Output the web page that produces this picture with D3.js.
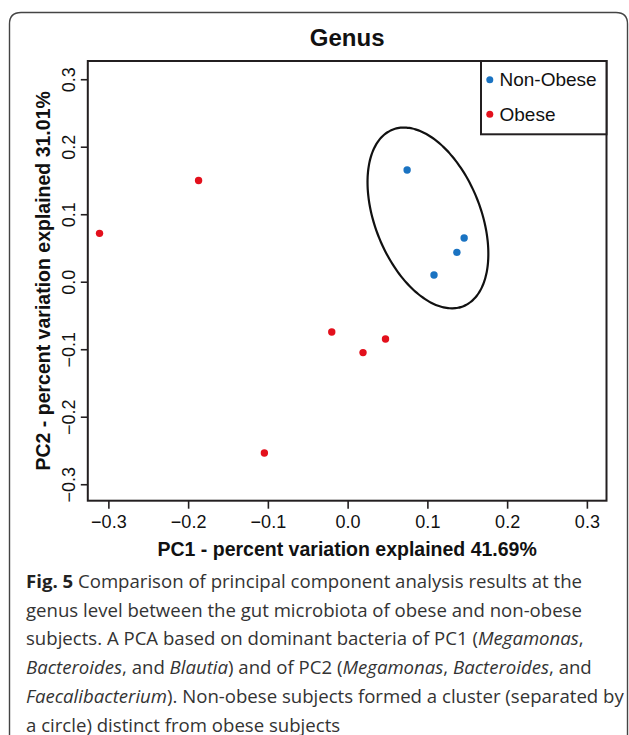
<!DOCTYPE html>
<html>
<head>
<meta charset="utf-8">
<script src="https://cdn.jsdelivr.net/npm/d3@7"></script>
<style>
  html, body { margin: 0; padding: 0; background: #fff; }
  svg { display: block; }
</style>
</head>
<body>
<svg id="chart" width="629" height="735"></svg>
<script>
// ---------- data ----------
const title = "Genus";
const xLabel = "PC1 - percent variation explained 41.69%";
const yLabel = "PC2 - percent variation explained 31.01%";
const groups = ["Non-Obese", "Obese"];
const groupColors = ["#1a73c2", "#e3101c"];
const nonObesePC1 = [0.0746, 0.1461, 0.1370, 0.1083];
const nonObesePC2 = [0.1655, 0.0647, 0.0435, 0.0099];
const obesePC1 = [-0.3111, -0.1869, -0.0199, 0.0475, 0.0193, -0.1044];
const obesePC2 = [0.0717, 0.1500, -0.0745, -0.0849, -0.1050, -0.2538];
const xTicks = [-0.3, -0.2, -0.1, 0.0, 0.1, 0.2, 0.3];
const yTicks = [-0.3, -0.2, -0.1, 0.0, 0.1, 0.2, 0.3];
const xDomain = [-0.3258, 0.3246];
const yDomain = [-0.3244, 0.327];
// cluster ellipse: centre and two semi-axis vectors (data units)
const ellipseCenter = [0.1007, 0.0945];
const ellipseMajor = [-0.0445, 0.1307];
const ellipseMinor = [0.0613, 0.0292];
const captionLines = [
  [["Fig. 5", "b"], [" Comparison of principal component analysis results at the", "n"]],
  [["genus level between the gut microbiota of obese and non-obese", "n"]],
  [["subjects. A PCA based on dominant bacteria of PC1 (", "n"], ["Megamonas", "i"], [",", "n"]],
  [["Bacteroides", "i"], [", and ", "n"], ["Blautia", "i"], [") and of PC2 (", "n"], ["Megamonas", "i"], [", ", "n"], ["Bacteroides", "i"], [", and", "n"]],
  [["Faecalibacterium", "i"], ["). Non-obese subjects formed a cluster (separated by", "n"]],
  [["a circle) distinct from obese subjects", "n"]]
];

// ---------- layout ----------
const svg = d3.select("#chart");
const plot = { left: 87.8, right: 606.5, top: 61, bottom: 500.7 };
const x = d3.scaleLinear().domain(xDomain).range([plot.left, plot.right]);
const y = d3.scaleLinear().domain(yDomain).range([plot.bottom, plot.top]);
const axisFont = "'Liberation Sans', Arial, Helvetica, sans-serif";
const ink = "#231f20";

// outer frame (open at bottom, runs off the page)
svg.append("path")
  .attr("d", `M9.5,745 L9.5,24 Q9.5,12.5 21,12.5 L616,12.5 Q627.5,12.5 627.5,24 L627.5,745`)
  .attr("fill", "none").attr("stroke", "#444").attr("stroke-width", 1.4);

// title
svg.append("text")
  .attr("x", (plot.left + plot.right) / 2).attr("y", 46)
  .attr("text-anchor", "middle")
  .attr("font-family", axisFont).attr("font-weight", "bold").attr("font-size", 24)
  .attr("fill", "#111").text(title);

// x axis
const gx = svg.append("g").attr("transform", `translate(0,${plot.bottom})`)
  .call(d3.axisBottom(x).tickValues(xTicks).tickSize(8).tickFormat(d3.format(".1f")));
gx.select(".domain").remove();
gx.selectAll(".tick line").attr("stroke", ink).attr("stroke-width", 1.6);
gx.selectAll(".tick text")
  .attr("y", 27.6).attr("dy", 0)
  .attr("font-family", axisFont).attr("font-size", 18).attr("fill", "#111");

// y axis
const gy = svg.append("g").attr("transform", `translate(${plot.left},0)`)
  .call(d3.axisLeft(y).tickValues(yTicks).tickSize(7).tickFormat(d3.format(".1f")));
gy.select(".domain").remove();
gy.selectAll(".tick line").attr("stroke", ink).attr("stroke-width", 1.6);
gy.selectAll(".tick text")
  .attr("x", 0).attr("y", 0).attr("dy", 0).attr("dx", 0)
  .attr("text-anchor", "middle")
  .attr("transform", "translate(-13,0) rotate(-90)")
  .attr("font-family", axisFont).attr("font-size", 18).attr("fill", "#111");

// plot box
svg.append("rect")
  .attr("x", plot.left).attr("y", plot.top)
  .attr("width", plot.right - plot.left).attr("height", plot.bottom - plot.top)
  .attr("fill", "none").attr("stroke", ink).attr("stroke-width", 2);

// axis titles
svg.append("text")
  .attr("x", (plot.left + plot.right) / 2).attr("y", 556)
  .attr("text-anchor", "middle")
  .attr("font-family", axisFont).attr("font-weight", "bold").attr("font-size", 19.5)
  .attr("fill", "#111").text(xLabel);
svg.append("text")
  .attr("transform", `translate(49.5,${(plot.top + plot.bottom) / 2}) rotate(-90)`)
  .attr("text-anchor", "middle")
  .attr("font-family", axisFont).attr("font-weight", "bold").attr("font-size", 19.5)
  .attr("fill", "#111").text(yLabel);

// ellipse
const ellipsePts = d3.range(0, 361, 3).map(a => {
  const t = a * Math.PI / 180;
  return [
    ellipseCenter[0] + Math.cos(t) * ellipseMajor[0] + Math.sin(t) * ellipseMinor[0],
    ellipseCenter[1] + Math.cos(t) * ellipseMajor[1] + Math.sin(t) * ellipseMinor[1]
  ];
});
svg.append("path")
  .attr("d", d3.line().x(d => x(d[0])).y(d => y(d[1])).curve(d3.curveCardinalClosed)(ellipsePts.slice(0, -1)))
  .attr("fill", "none").attr("stroke", "#111").attr("stroke-width", 2.2);

// points
const series = [
  { name: groups[0], color: groupColors[0], xs: nonObesePC1, ys: nonObesePC2 },
  { name: groups[1], color: groupColors[1], xs: obesePC1, ys: obesePC2 }
];
series.forEach(s => {
  svg.append("g").selectAll("circle")
    .data(s.xs.map((v, i) => [v, s.ys[i]]))
    .join("circle")
    .attr("cx", d => x(d[0])).attr("cy", d => y(d[1]))
    .attr("r", 3.7).attr("fill", s.color);
});

// legend
const lg = svg.append("g");
lg.append("rect")
  .attr("x", 481).attr("y", plot.top)
  .attr("width", plot.right - 481).attr("height", 134.3 - plot.top)
  .attr("fill", "#fff").attr("stroke", ink).attr("stroke-width", 2);
series.forEach((s, i) => {
  const cy = 79.7 + i * 34.6;
  lg.append("circle").attr("cx", 489.8).attr("cy", cy).attr("r", 3.5).attr("fill", s.color);
  lg.append("text")
    .attr("x", 499.5).attr("y", cy + 6.6)
    .attr("font-family", axisFont).attr("font-size", 19)
    .attr("fill", "#111").text(s.name);
});

// caption
const capFont = "'Open Sans', 'Noto Sans', sans-serif";
captionLines.forEach((segs, i) => {
  const t = svg.append("text")
    .attr("x", 26).attr("y", 588 + i * 28.7)
    .attr("font-family", capFont).attr("font-size", 18.6).attr("fill", "#333");
  segs.forEach(([txt, st]) => {
    const sp = t.append("tspan").text(txt);
    if (st === "b") sp.attr("font-weight", "bold").attr("fill", "#222");
    if (st === "i") sp.attr("font-style", "italic");
  });
});
</script>
</body>
</html>
